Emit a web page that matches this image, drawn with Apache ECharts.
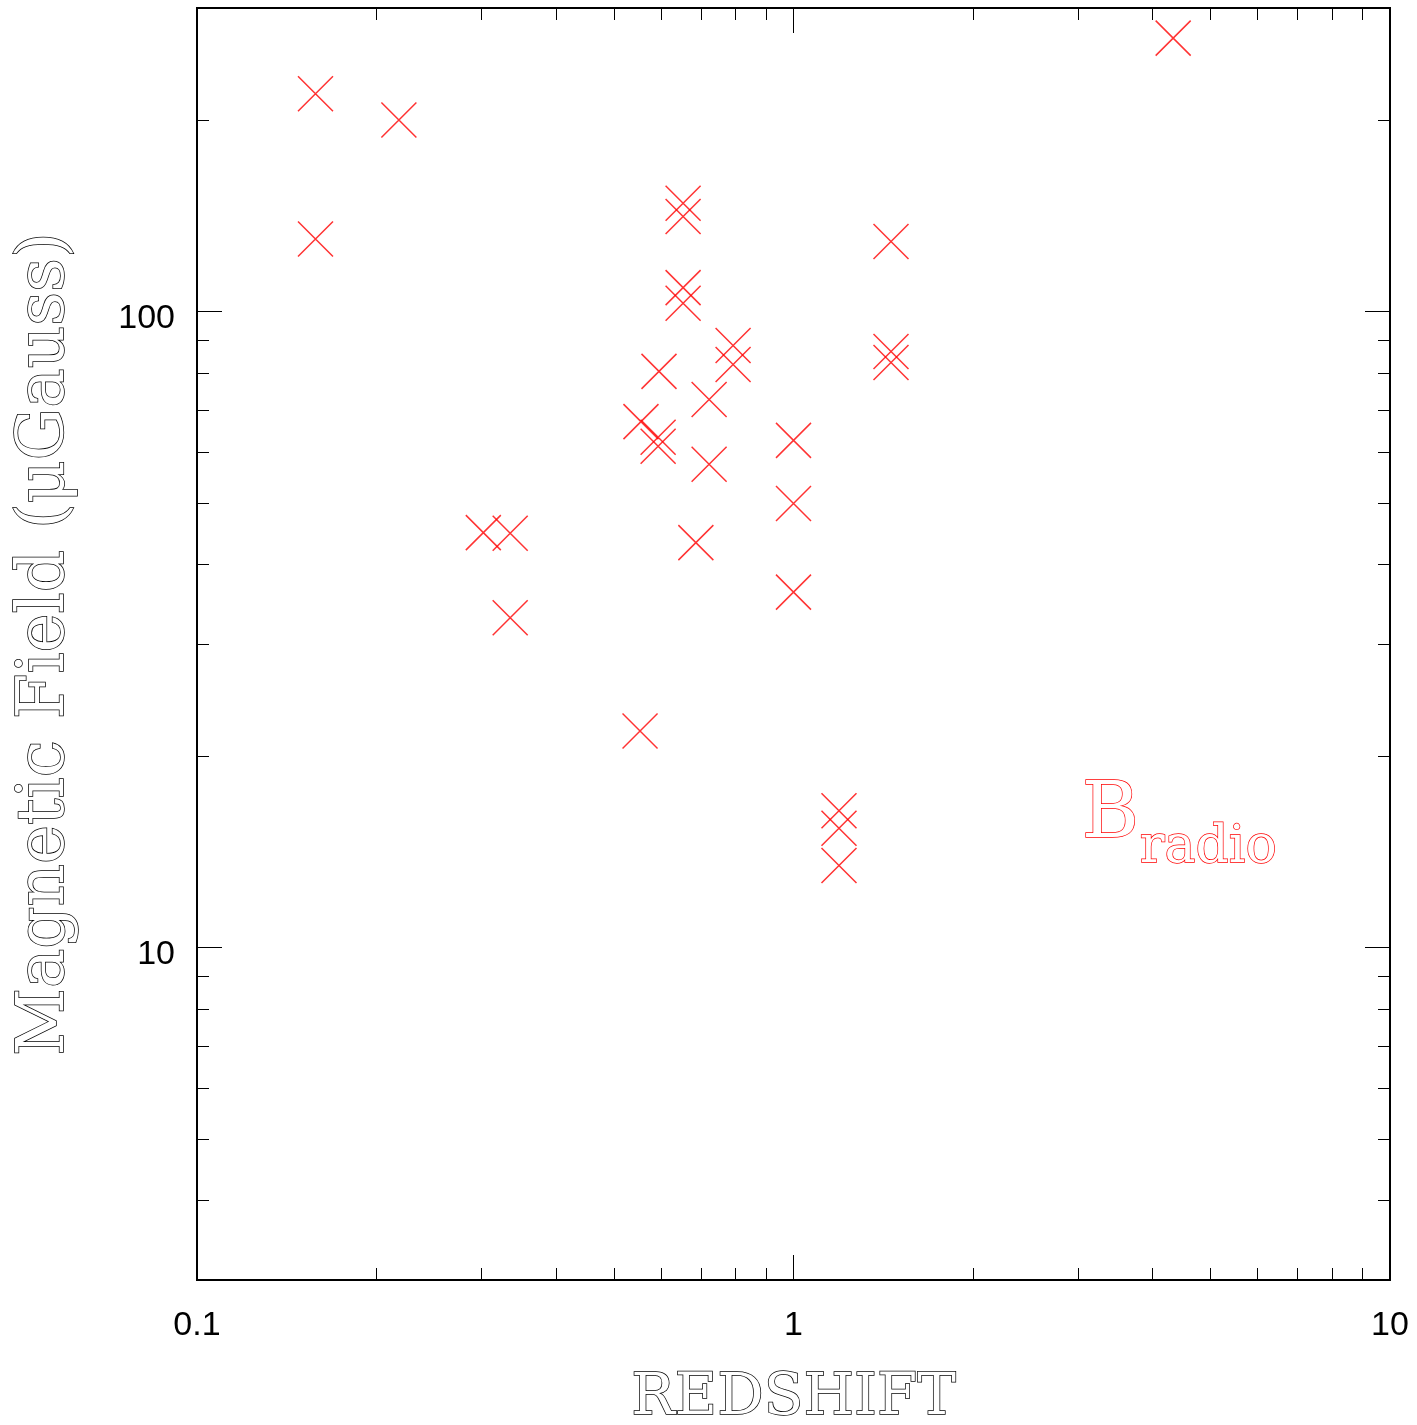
<!DOCTYPE html>
<html>
<head>
<meta charset="utf-8">
<script src="https://cdn.jsdelivr.net/npm/echarts@6/dist/echarts.min.js"></script>
<style>
  html, body { margin: 0; padding: 0; background: #fff; }
  #chart { width: 1417px; height: 1425px; }
</style>
</head>
<body>
<div id="chart"></div>
<script>
// redshift and radio magnetic field
const redshift = [
  0.158, 0.158, 0.218, 4.33,
  0.653, 0.653, 0.653, 0.653,
  0.792, 0.792, 1.457, 1.457, 1.457,
  0.595, 0.722, 0.555, 0.593, 0.593, 0.722,
  1.0, 1.0, 1.0,
  0.302, 0.335, 0.335, 0.686, 0.553,
  1.192, 1.192, 1.192
]
const bRadio = [
  220, 130, 200, 269,
  148, 141, 109, 103,
  88.4, 82.5, 128.8, 86.5, 83.1,
  80.5, 72.7, 67.1, 63.4, 61.4, 57.5,
  62.7, 49.9, 36.2,
  44.9, 44.8, 33.0, 43.3, 21.9,
  16.4, 15.4, 13.45
]

const xMinorTicks = [0.2, 0.3, 0.4, 0.5, 0.6, 0.7, 0.8, 0.9, 2, 3, 4, 5, 6, 7, 8, 9]
const yMinorTicks = [4, 5, 6, 7, 8, 9, 20, 30, 40, 50, 60, 70, 80, 90, 200]

const chart = echarts.init(document.getElementById('chart'))

const serif = 'DejaVu Serif'
const sans = 'Liberation Sans'

function xAxisOf(position, major, withLabel) {
  return {
    type: 'log',
    logBase: 10,
    min: 0.1,
    max: 10,
    position: position,
    axisLine: { show: false },
    splitLine: { show: false },
    axisTick: major
      ? { show: true, inside: true, length: 25, lineStyle: { color: '#000', width: 1 } }
      : { show: true, inside: true, length: 12, customValues: xMinorTicks, lineStyle: { color: '#000', width: 1 } },
    axisLabel: withLabel
      ? { show: true, color: '#000', fontFamily: sans, fontSize: 34, margin: 29 }
      : { show: false }
  }
}

function yAxisOf(position, major, withLabel) {
  return {
    type: 'log',
    logBase: 10,
    min: 3,
    max: 300,
    position: position,
    axisLine: { show: false },
    splitLine: { show: false },
    axisTick: major
      ? { show: true, inside: true, length: 25, lineStyle: { color: '#000', width: 1 } }
      : { show: true, inside: true, length: 12, customValues: yMinorTicks, lineStyle: { color: '#000', width: 1 } },
    axisLabel: withLabel
      ? { show: true, color: '#000', fontFamily: sans, fontSize: 34, margin: 22, verticalAlign: 'top', lineHeight: 14, showMinLabel: false, showMaxLabel: false }
      : { show: false }
  }
}

const xMain = xAxisOf('bottom', true, true)
xMain.name = 'REDSHIFT'
xMain.nameLocation = 'middle'
xMain.nameGap = 90
xMain.nameTextStyle = {
  fontFamily: serif, fontSize: 58, color: '#fff',
  textBorderColor: '#000', textBorderWidth: 1.5
}

const yMain = yAxisOf('left', true, true)
yMain.name = 'Magnetic Field (μGauss)'
yMain.nameLocation = 'middle'
yMain.nameGap = 118
yMain.nameRotate = 90
yMain.nameTextStyle = {
  fontFamily: serif, fontSize: 66, color: '#fff',
  textBorderColor: '#000', textBorderWidth: 1.5
}

const option = {
  backgroundColor: '#fff',
  animation: false,
  grid: {
    left: 197,
    right: 27,
    top: 8,
    bottom: 145,
    containLabel: false,
    outerBoundsMode: 'none',
    show: true,
    borderColor: '#000',
    borderWidth: 2,
    backgroundColor: 'transparent'
  },
  xAxis: [
    xMain,
    xAxisOf('bottom', false, false),
    xAxisOf('top', true, false),
    xAxisOf('top', false, false)
  ],
  yAxis: [
    yMain,
    yAxisOf('left', false, false),
    yAxisOf('right', true, false),
    yAxisOf('right', false, false)
  ],
  graphic: [
    {
      type: 'text',
      left: 1081,
      top: 777,
      style: {
        text: 'B',
        font: '78px "DejaVu Serif"',
        fill: '#fff',
        stroke: '#ff0000',
        lineWidth: 1.4
      }
    },
    {
      type: 'text',
      left: 1139,
      top: 822,
      style: {
        text: 'radio',
        font: '52px "DejaVu Serif"',
        fill: '#fff',
        stroke: '#ff0000',
        lineWidth: 1.4
      }
    }
  ],
  series: [
    {
      type: 'scatter',
      xAxisIndex: 0,
      yAxisIndex: 0,
      symbol: 'path://M0,0L10,10M10,0L0,10',
      symbolSize: 35,
      itemStyle: {
        color: 'none',
        borderColor: '#ff0000',
        borderWidth: 1.5
      },
      data: redshift.map((z, i) => [z, bRadio[i]])
    }
  ]
}

chart.setOption(option)
</script>
</body>
</html>
